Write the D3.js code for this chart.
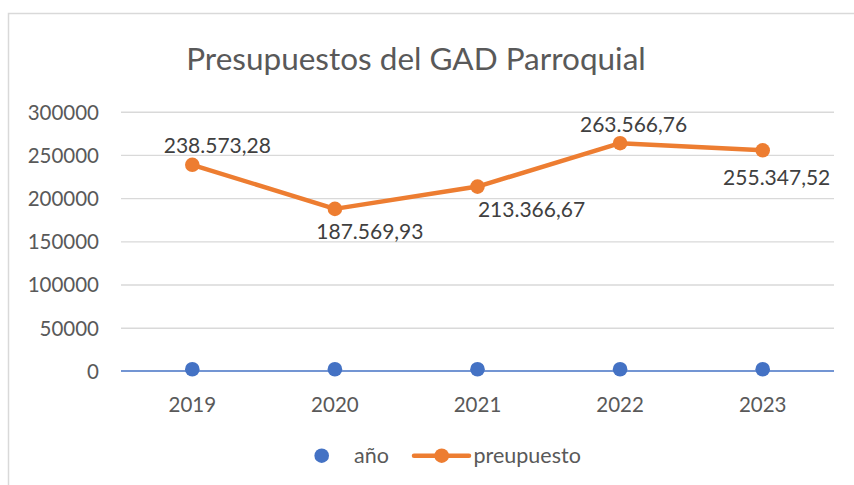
<!DOCTYPE html>
<html>
<head>
<meta charset="utf-8">
<script src="https://cdn.jsdelivr.net/npm/d3@7/dist/d3.min.js"></script>
<style>
  html, body { margin: 0; padding: 0; background: #fff; }
  svg { display: block; font-family: Lato, "Open Sans", sans-serif; }
</style>
</head>
<body>
<svg id="chart" width="854" height="485"></svg>
<script>
// Budget of the parish GAD by year
const years = ["2019", "2020", "2021", "2022", "2023"];
const anioValues = [2019, 2020, 2021, 2022, 2023];
const presupuesto = [238573.28, 187569.93, 213366.67, 263566.76, 255347.52];
const presupuestoLabels = ["238.573,28", "187.569,93", "213.366,67", "263.566,76", "255.347,52"];
const yTicks = [0, 50000, 100000, 150000, 200000, 250000, 300000];
const seriesNames = ["año", "preupuesto"];
const titleText = "Presupuestos del GAD Parroquial";

// label placement relative to each point (dx, dy of baseline)
const labelOffsets = [[25, -12], [35, 30], [54, 30.5], [13.5, -11], [14, 35]];

const BLUE = "#4472C4", ORANGE = "#ED7D31", GRID = "#D9D9D9", AXIS_TEXT = "#595959", LABEL_TEXT = "#404040";

const svg = d3.select("#chart");

// chart frame
svg.append("rect")
  .attr("x", 8.5).attr("y", 13.5)
  .attr("width", 850).attr("height", 480)
  .attr("fill", "#fff")
  .attr("stroke", GRID).attr("stroke-width", 1.5);

const plot = { left: 121, right: 834, top: 111.7, bottom: 371 };

const x = d3.scaleBand().domain(years).range([plot.left, plot.right]);
const y = d3.scaleLinear().domain([0, 300000]).range([plot.bottom, plot.top]);
const cx = d => x(d) + x.bandwidth() / 2;

// title
svg.append("text")
  .attr("x", 416).attr("y", 70)
  .attr("text-anchor", "middle")
  .attr("font-size", 31.5)
  .attr("fill", AXIS_TEXT)
  .text(titleText);

// gridlines
const grid = svg.append("g")
  .attr("transform", `translate(${plot.left},0)`)
  .call(d3.axisLeft(y).tickValues(yTicks.filter(v => v > 0))
    .tickSize(-(plot.right - plot.left)).tickFormat(""));
grid.select(".domain").remove();
grid.selectAll(".tick line").attr("stroke", GRID).attr("stroke-width", 1.4);

// y axis labels
const yAxis = svg.append("g")
  .attr("transform", `translate(${plot.left},0)`)
  .call(d3.axisLeft(y).tickValues(yTicks).tickSize(0).tickPadding(22).tickFormat(d3.format("d")));
yAxis.select(".domain").remove();
yAxis.selectAll("text")
  .attr("font-family", "Lato, sans-serif")
  .attr("font-size", 20.5)
  .attr("fill", AXIS_TEXT)
  .attr("dy", "0.36em");

// horizontal axis line
svg.append("line")
  .attr("x1", plot.left).attr("x2", plot.right)
  .attr("y1", y(0)).attr("y2", y(0))
  .attr("stroke", BLUE).attr("stroke-width", 1.6);

// x axis labels
const xAxis = svg.append("g")
  .attr("transform", `translate(0,${plot.bottom})`)
  .call(d3.axisBottom(x).tickSize(0).tickPadding(0));
xAxis.select(".domain").remove();
xAxis.selectAll("text")
  .attr("font-family", "Lato, sans-serif")
  .attr("font-size", 20.5)
  .attr("fill", AXIS_TEXT)
  .attr("dy", null)
  .attr("y", 41);

// "año" series: markers only
svg.append("g").selectAll("circle")
  .data(anioValues)
  .join("circle")
  .attr("cx", (d, i) => cx(years[i]))
  .attr("cy", d => y(d))
  .attr("r", 7.3)
  .attr("fill", BLUE);

// "preupuesto" series: line with markers
const line = d3.line()
  .x((d, i) => cx(years[i]))
  .y(d => y(d));
svg.append("path")
  .datum(presupuesto)
  .attr("d", line)
  .attr("fill", "none")
  .attr("stroke", ORANGE)
  .attr("stroke-width", 4.5)
  .attr("stroke-linejoin", "round")
  .attr("stroke-linecap", "round");
svg.append("g").selectAll("circle")
  .data(presupuesto)
  .join("circle")
  .attr("cx", (d, i) => cx(years[i]))
  .attr("cy", d => y(d))
  .attr("r", 7.3)
  .attr("fill", ORANGE);

// data labels
svg.append("g").selectAll("text")
  .data(presupuesto)
  .join("text")
  .attr("x", (d, i) => cx(years[i]) + labelOffsets[i][0])
  .attr("y", (d, i) => y(d) + labelOffsets[i][1])
  .attr("text-anchor", "middle")
  .attr("font-size", 21)
  .attr("fill", LABEL_TEXT)
  .text((d, i) => presupuestoLabels[i]);

// legend
const legend = svg.append("g");
legend.append("circle")
  .attr("cx", 321.7).attr("cy", 455.7).attr("r", 7.3).attr("fill", BLUE);
legend.append("text")
  .attr("x", 354).attr("y", 463.3)
  .attr("font-size", 21.5).attr("fill", AXIS_TEXT)
  .text(seriesNames[0]);
legend.append("line")
  .attr("x1", 414).attr("x2", 469).attr("y1", 455.7).attr("y2", 455.7)
  .attr("stroke", ORANGE).attr("stroke-width", 4.5).attr("stroke-linecap", "round");
legend.append("circle")
  .attr("cx", 441.7).attr("cy", 455.7).attr("r", 7.3).attr("fill", ORANGE);
legend.append("text")
  .attr("x", 473.5).attr("y", 463.3)
  .attr("font-size", 21.5).attr("fill", AXIS_TEXT)
  .text(seriesNames[1]);
</script>
</body>
</html>
